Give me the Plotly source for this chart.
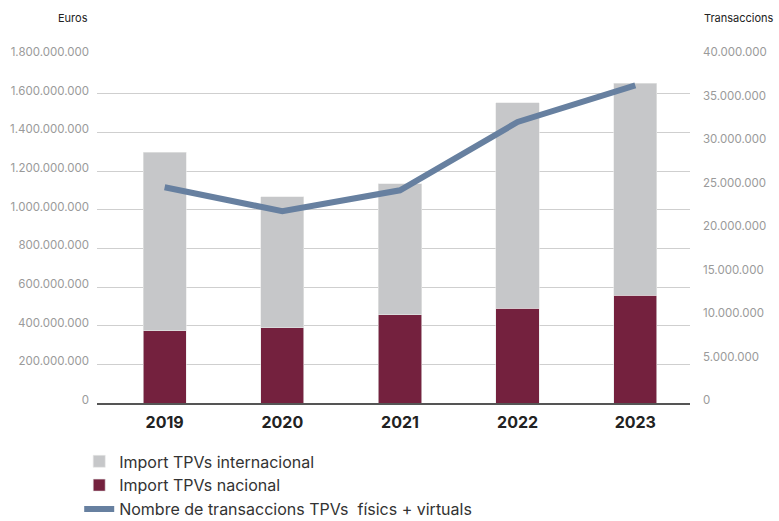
import plotly.graph_objects as go

years = ["2019", "2020", "2021", "2022", "2023"]
nacional = [375_000_000, 389_000_000, 457_000_000, 490_000_000, 557_000_000]
total = [1_298_000_000, 1_066_000_000, 1_133_000_000, 1_553_000_000, 1_654_000_000]
internacional = [t - n for t, n in zip(total, nacional)]
transaccions = [24_800_000, 22_050_000, 24_450_000, 32_300_000, 36_500_000]

left_ticks = list(range(0, 1_800_000_001, 200_000_000))
right_ticks = list(range(0, 40_000_001, 5_000_000))

FONT = "Inter, Roboto, Arial, sans-serif"
GRAY_BAR = "#c6c7c9"
RED_BAR = "#74213e"
LINE = "#6780a0"

fig = go.Figure()
fig.add_trace(go.Bar(
    x=years, y=nacional, name="Import TPVs nacional",
    marker=dict(color=RED_BAR, line=dict(width=0.6, color="#e8e8e8")),
    width=0.368, legendrank=2,
))
fig.add_trace(go.Bar(
    x=years, y=internacional, name="Import TPVs internacional",
    marker=dict(color=GRAY_BAR, line=dict(width=0.6, color="#e8e8e8")),
    width=0.368, legendrank=1,
))
fig.add_trace(go.Scatter(
    x=years, y=transaccions, name="Nombre de transaccions TPVs  físics + virtuals",
    mode="lines", line=dict(color=LINE, width=6), yaxis="y2", legendrank=3,
))

fig.update_layout(
    width=779, height=521,
    margin=dict(l=97, r=89, t=55, b=118, autoexpand=False),
    paper_bgcolor="white", plot_bgcolor="white",
    barmode="stack",
    separators=",.",
    font=dict(family=FONT, color="#333"),
    showlegend=True,
    legend=dict(
        x=-0.03, y=-0.119, xanchor="left", yanchor="top",
        font=dict(size=16, color="#333", family=FONT),
        tracegroupgap=0, itemwidth=30, traceorder="normal",
    ),
    xaxis=dict(
        type="category", range=[-0.575, 4.465], automargin=False,
        showline=True, linecolor="#555", linewidth=1.5,
        showgrid=False, ticks="", ticklabelstandoff=4,
        tickfont=dict(size=16, color="#222", family=FONT, weight="bold"),
        fixedrange=True,
    ),
    yaxis=dict(
        range=[0, 1_800_000_000], tickvals=left_ticks, tickformat=",d",
        showgrid=True, gridcolor="#cfcfcf", gridwidth=1, automargin=False,
        zeroline=False, ticks="", ticklabelstandoff=7, ticklabelshift=-3,
        tickfont=dict(size=11.5, color="#9a9a9a", family=FONT),
    ),
    yaxis2=dict(
        range=[0, 40_000_000], tickvals=right_ticks, tickformat=",d",
        overlaying="y", side="right", showgrid=False, zeroline=False,
        ticks="", ticklabelstandoff=12, ticklabelshift=-3, automargin=False,
        tickfont=dict(size=11.5, color="#9a9a9a", family=FONT),
    ),
    annotations=[
        dict(text="Euros", xref="paper", yref="paper", x=-0.012, y=1.105,
             xanchor="right", yanchor="middle", showarrow=False,
             font=dict(size=11, color="#222", family=FONT)),
        dict(text="Transaccions", xref="paper", yref="paper", x=1.021, y=1.105,
             xanchor="left", yanchor="middle", showarrow=False,
             font=dict(size=11, color="#222", family=FONT)),
    ],
)

fig.write_html(
    "out.html",
    config={"displayModeBar": False},
    post_script="document.body.style.margin='0';document.body.style.padding='0';",
)
